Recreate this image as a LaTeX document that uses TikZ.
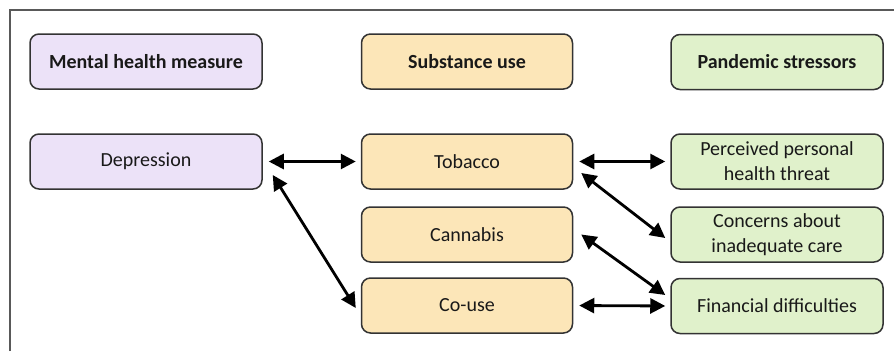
\documentclass[tikz,border=0pt]{standalone}
\usepackage{fontspec}
\setmainfont{Carlito}
\usetikzlibrary{arrows.meta,calc}
\definecolor{purp}{HTML}{ECE2F8}
\definecolor{yell}{HTML}{FCE6B8}
\definecolor{gren}{HTML}{E0F1CB}
\definecolor{bord}{HTML}{333333}
\tikzset{
  box/.style={draw=bord, line width=1.5pt, rounded corners=9pt, minimum width=#1, minimum height=55pt, align=center, inner sep=0pt,
    font=\fontsize{20}{25}\selectfont, text=black!90},
  box/.default=232pt,
  pbox/.style={box=232pt, fill=purp},
  ybox/.style={box=211pt, fill=yell},
  gbox/.style={box=212pt, fill=gren},
  hdr/.style={font=\fontsize{20}{25}\selectfont\bfseries},
  link/.style={line width=2.8pt, {Triangle[length=15pt,width=15pt]}-{Triangle[length=15pt,width=15pt]}},
  hlink/.style={link, shorten <=6pt, shorten >=5pt},
}
\begin{document}
\begin{tikzpicture}[x=1pt,y=-1pt]
\useasboundingbox (0,0) rectangle (894,351);
\draw[line width=1.2pt, draw=gray!70!black] (10,351) -- (10,10) -- (894,10);
\node[pbox, hdr] (mh) at (146,61.5) {Mental health measure};
\node[ybox, hdr] (su) at (467,61.5) {Substance use};
\node[gbox, hdr] (ps) at (777,62) {Pandemic stressors};
\node[pbox] (dep) at (146,161.5) {Depression};
\node[ybox] (tob) at (467,161.5) {Tobacco};
\node[ybox] (can) at (467,234.5) {Cannabis};
\node[ybox] (cou) at (467,305.5) {Co-use};
\node[gbox] (pph) at (777,161.5) {Perceived personal\\health threat};
\node[gbox] (cic) at (777,234.5) {Concerns about\\inadequate care};
\node[gbox] (fin) at (777,306) {Financial difficulties};
\draw[hlink] (dep.east) -- (tob.west);
\draw[link] ($(dep.east)+(10,13.5)$) -- ($(cou.west)+(-5,2.5)$);
\draw[hlink] (tob.east) -- (pph.west);
\draw[link] ($(tob.east)+(8,11.5)$) -- ($(cic.west)+(-5,3.5)$);
\draw[link] ($(can.east)+(8,0)$) -- ($(fin.west)+(-5,-11)$);
\draw[hlink] (cou.east) -- (fin.west);
\end{tikzpicture}
\end{document}
